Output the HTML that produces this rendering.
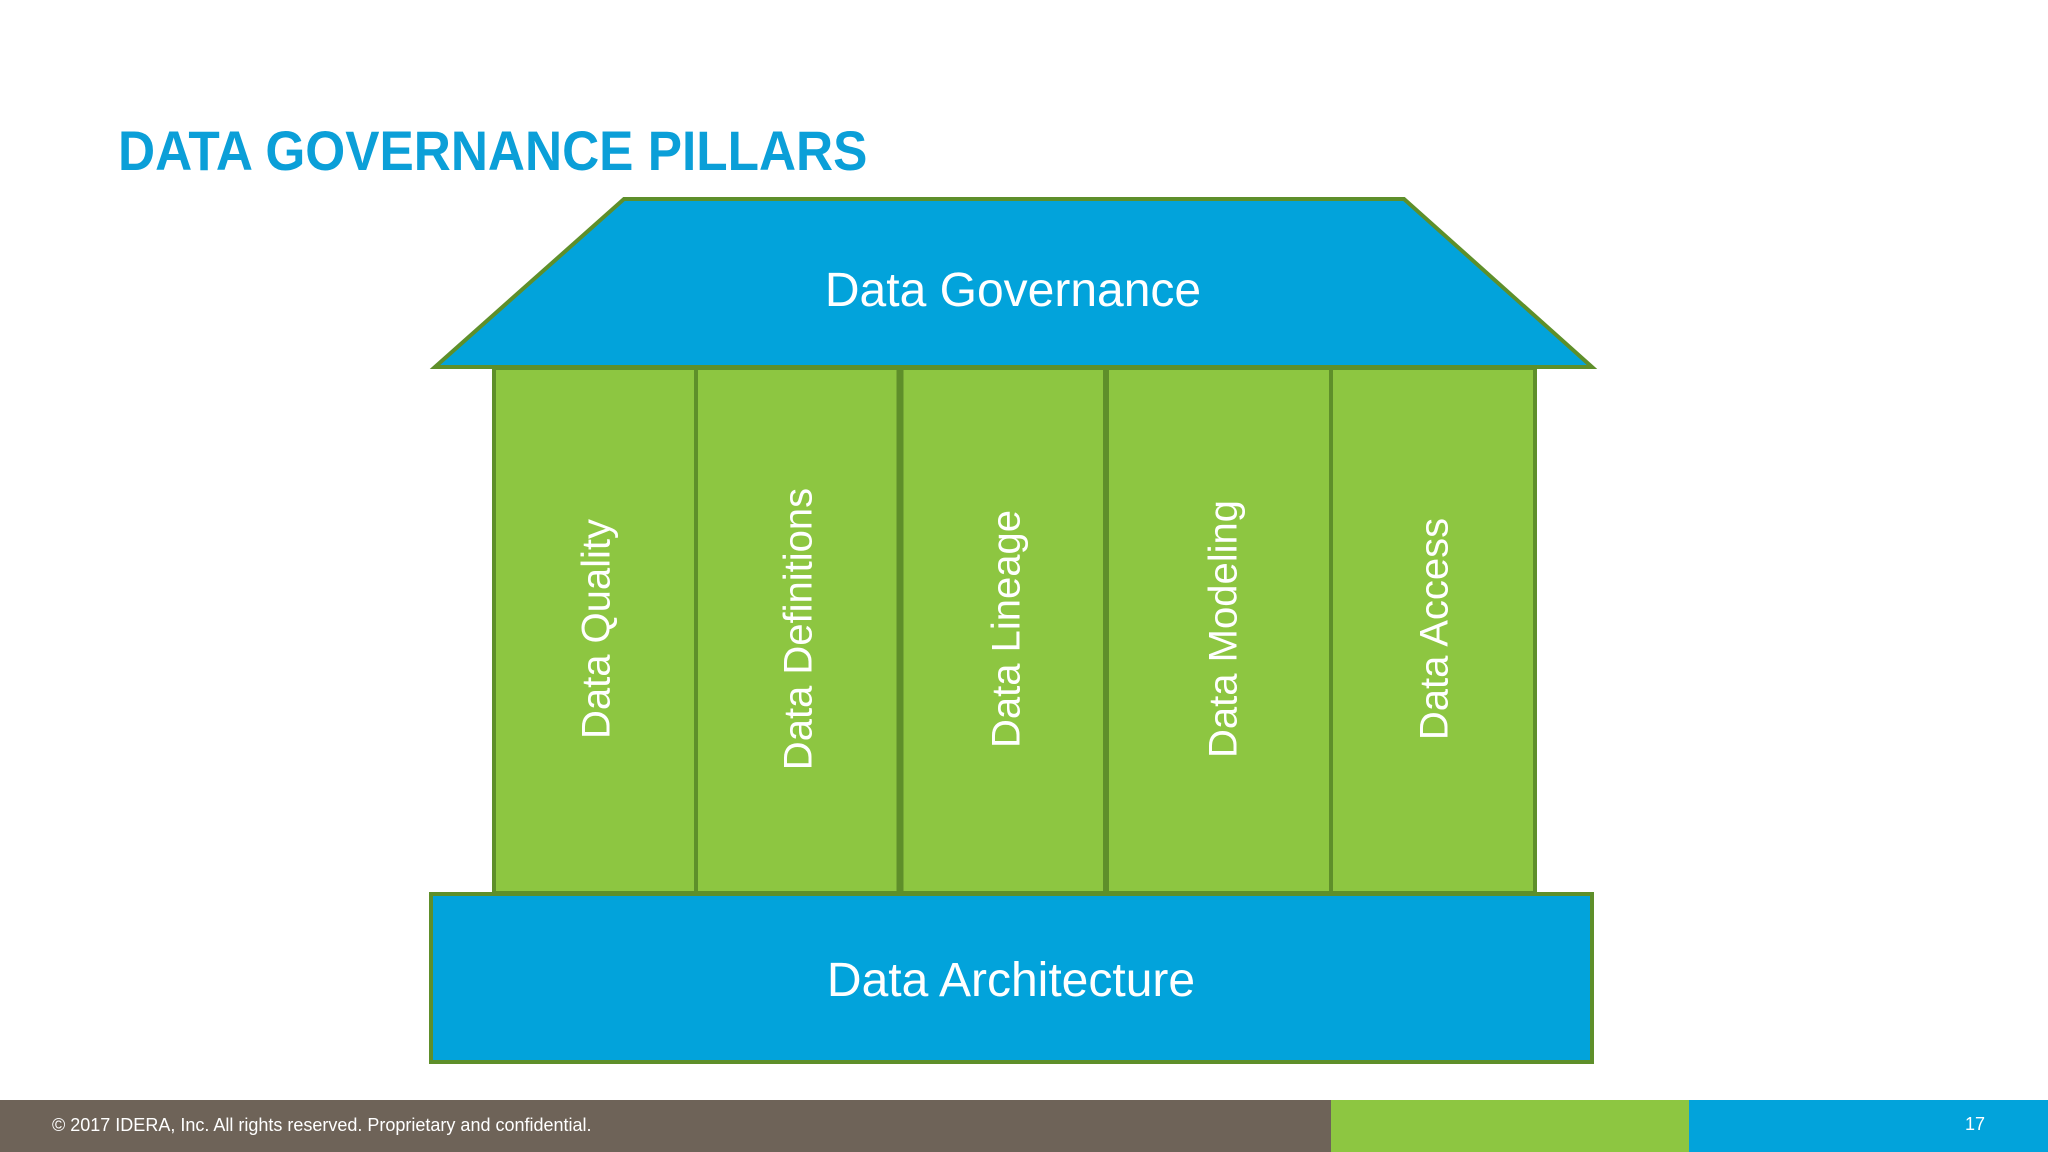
<!DOCTYPE html>
<html><head><meta charset="utf-8"><style>
html,body{margin:0;padding:0;}
body{width:2048px;height:1152px;position:relative;background:#fff;overflow:hidden;font-family:"Liberation Sans",sans-serif;}
.t{position:absolute;left:118px;top:118px;font-size:56px;font-weight:bold;color:#0b9fd8;transform:scaleX(0.917);transform-origin:0 0;white-space:nowrap;}
.f{position:absolute;top:1100px;height:52px;}
.v{position:absolute;transform:translate(-50%,-50%) rotate(-90deg);white-space:nowrap;color:#fff;font-size:40px;}
</style></head><body>
<div class="t">DATA GOVERNANCE PILLARS</div>
<svg width="2048" height="1152" style="position:absolute;left:0;top:0">
<polygon points="624,199 1404,199 1592,367 435,367" fill="#02a3db" stroke="#5e8f2a" stroke-width="4"/>
<rect x="494" y="368" width="1041" height="525" fill="#8dc641" stroke="#5e8f2a" stroke-width="4"/>
<g stroke="#5e8f2a" stroke-width="4">
<line x1="696" y1="368" x2="696" y2="893"/>
<line x1="900" y1="368" x2="900" y2="893" stroke-width="7"/>
<line x1="1106" y1="368" x2="1106" y2="893" stroke-width="6"/>
<line x1="1331" y1="368" x2="1331" y2="893"/>
</g>
<rect x="431" y="894" width="1161" height="168" fill="#02a3db" stroke="#5e8f2a" stroke-width="4"/>
<text x="1013" y="306" fill="#fff" font-size="48" text-anchor="middle" font-family="Liberation Sans">Data Governance</text>
<text x="1011" y="996" fill="#fff" font-size="48" text-anchor="middle" font-family="Liberation Sans">Data Architecture</text>
</svg>
<div class="v" style="left:597px;top:629px">Data Quality</div>
<div class="v" style="left:799px;top:629px">Data Definitions</div>
<div class="v" style="left:1007px;top:629px">Data Lineage</div>
<div class="v" style="left:1224px;top:629px">Data Modeling</div>
<div class="v" style="left:1435px;top:629px">Data Access</div>
<div class="f" style="left:0;width:1331px;background:#6e6358"></div>
<div class="f" style="left:1331px;width:358px;background:#8dc641"></div>
<div class="f" style="left:1689px;width:359px;background:#02a3db"></div>
<div style="position:absolute;left:52px;top:1115px;color:#fff;font-size:18px;">© 2017 IDERA, Inc. All rights reserved. Proprietary and confidential.</div>
<div style="position:absolute;left:1965px;top:1114px;color:#fff;font-size:18px;">17</div>
</body></html>
